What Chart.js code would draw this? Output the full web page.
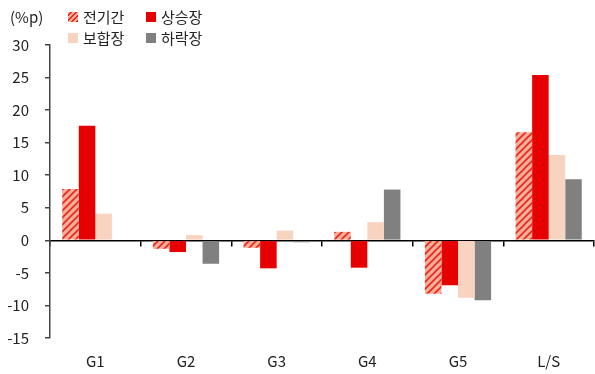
<!DOCTYPE html>
<html>
<head>
<meta charset="utf-8">
<script src="https://cdn.jsdelivr.net/npm/chart.js@4"></script>
<style>
  html, body { margin: 0; padding: 0; background: #fff; }
  #wrap { position: relative; width: 595px; height: 374px; }
  canvas { position: absolute; left: 0; top: 0; }
  .unit { position: absolute; left: 10px; top: 7px; font: 15px "Noto Sans CJK KR", "Noto Sans", sans-serif; color: #222; line-height: 20px; }
  .leg { position: absolute; font: 15px "Noto Sans CJK KR", sans-serif; color: #222; line-height: 20px; display: flex; align-items: center; }
  .sw { width: 10px; height: 10px; margin-right: 5px; }
</style>
</head>
<body>
<div id="wrap">
  <canvas id="c" width="595" height="374"></canvas>
  <div class="unit">(%p)</div>
  <div class="leg" style="left:68px;top:7px;"><span class="sw" style="background:repeating-linear-gradient(135deg,#F4AE98 0 2px,#E8281E 2px 3.5px);"></span>전기간</div>
  <div class="leg" style="left:146px;top:7px;"><span class="sw" style="background:#E60000;"></span>상승장</div>
  <div class="leg" style="left:68px;top:28px;"><span class="sw" style="background:#F8D3C0;"></span>보합장</div>
  <div class="leg" style="left:146px;top:28px;"><span class="sw" style="background:#808080;"></span>하락장</div>
</div>
<script>
const categories = ['G1', 'G2', 'G3', 'G4', 'G5', 'L/S'];
const seriesNames = ['전기간', '상승장', '보합장', '하락장'];
const totalPeriod = [7.9, -1.3, -1.15, 1.3, -8.2, 16.6];
const bullMarket = [17.6, -1.8, -4.3, -4.2, -6.9, 25.4];
const flatMarket = [4.1, 0.8, 1.5, 2.8, -8.8, 13.1];
const bearMarket = [null, -3.6, -0.3, 7.8, -9.2, 9.4];
const yTicks = [30, 25, 20, 15, 10, 5, 0, -5, -10, -15];

function makeHatch() {
  const s = 7;
  const c = document.createElement('canvas');
  c.width = s; c.height = s;
  const g = c.getContext('2d');
  g.fillStyle = '#F4AE98';
  g.fillRect(0, 0, s, s);
  g.strokeStyle = '#E8281E';
  g.lineWidth = 1.6;
  g.beginPath();
  g.moveTo(-1, s + 1); g.lineTo(s + 1, -1);
  g.moveTo(-1, 1); g.lineTo(1, -1);
  g.moveTo(s - 1, s + 1); g.lineTo(s + 1, s - 1);
  g.stroke();
  return g.createPattern(c, 'repeat');
}
const ctx = document.getElementById('c').getContext('2d');
const hatch = makeHatch();
const FONT = { family: '"Noto Sans CJK KR", "Noto Sans", sans-serif', size: 15 };

new Chart(ctx, {
  type: 'bar',
  data: {
    labels: categories,
    datasets: [
      { label: seriesNames[0], data: totalPeriod, backgroundColor: hatch },
      { label: seriesNames[1], data: bullMarket, backgroundColor: '#E60000' },
      { label: seriesNames[2], data: flatMarket, backgroundColor: '#F8D3C0' },
      { label: seriesNames[3], data: bearMarket, backgroundColor: '#808080' }
    ]
  },
  options: {
    responsive: false,
    animation: false,
    events: [],
    datasets: { bar: { categoryPercentage: 0.73, barPercentage: 1.0, borderWidth: 0 } },
    layout: { padding: { top: 45, right: 1, left: 0, bottom: 0 } },
    plugins: { legend: { display: false }, tooltip: { enabled: false } },
    scales: {
      x: {
        type: 'category',
        position: 'bottom',
        border: { display: false },
        grid: { display: false },
        ticks: { font: FONT, color: '#222', padding: 6 },
        afterFit(s) { s.height = 36; }
      },
      x2: {
        type: 'category',
        labels: categories,
        position: { y: 0 },
        offset: true,
        border: { display: true, color: '#000', width: 1.5 },
        grid: { display: true, drawOnChartArea: false, drawTicks: true, tickLength: 5, color: '#000', lineWidth: 1.5, offset: true },
        ticks: { display: false }
      },
      y: {
        min: -15, max: 30,
        afterBuildTicks(s) { s.ticks = yTicks.map(v => ({ value: v })); },
        border: { display: true, color: '#444', width: 1.5 },
        grid: { display: true, drawOnChartArea: false, drawTicks: true, tickLength: 5, color: '#444', lineWidth: 1.5 },
        ticks: { font: FONT, color: '#222', padding: 16 },
        afterFit(s) { s.width = 50; }
      }
    }
  }
});
</script>
</body>
</html>
